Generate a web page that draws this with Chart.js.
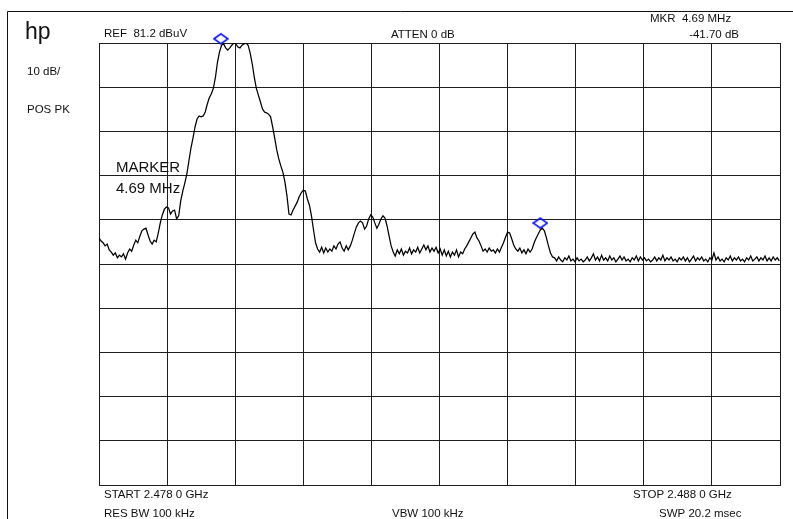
<!DOCTYPE html>
<html>
<head>
<meta charset="utf-8">
<script src="https://cdn.jsdelivr.net/npm/chart.js@4.4.0/dist/chart.umd.min.js"></script>
<style>
  html, body { margin: 0; padding: 0; background: #fff; }
  #wrap { width: 793px; height: 519px; }
</style>
</head>
<body>
<div id="wrap"><canvas id="specChart" width="793" height="519"></canvas></div>
<script>
// frequency offset from START (MHz), 1 MHz/div
const traceFreq = [
  0,0.03,0.06,0.09,0.12,0.15,0.18,0.21,0.24,0.27,
  0.3,0.33,0.36,0.39,0.42,0.45,0.48,0.51,0.54,0.57,
  0.6,0.63,0.66,0.69,0.72,0.75,0.78,0.81,0.84,0.87,
  0.9,0.93,0.96,0.99,1.02,1.05,1.08,1.11,1.14,1.17,
  1.2,1.23,1.26,1.29,1.32,1.35,1.38,1.41,1.44,1.47,
  1.5,1.53,1.56,1.59,1.62,1.65,1.68,1.71,1.74,1.77,
  1.8,1.83,1.86,1.89,1.92,1.95,1.98,2.01,2.04,2.07,
  2.1,2.13,2.16,2.19,2.22,2.25,2.28,2.31,2.34,2.37,
  2.4,2.43,2.46,2.49,2.52,2.55,2.58,2.61,2.64,2.67,
  2.7,2.73,2.76,2.79,2.82,2.85,2.88,2.91,2.94,2.97,
  3.0,3.03,3.06,3.09,3.12,3.15,3.18,3.21,3.24,3.27,
  3.3,3.33,3.36,3.39,3.42,3.45,3.48,3.51,3.54,3.57,
  3.6,3.63,3.66,3.69,3.72,3.75,3.78,3.81,3.84,3.87,
  3.9,3.93,3.96,3.99,4.02,4.05,4.08,4.11,4.14,4.17,
  4.2,4.23,4.26,4.29,4.32,4.35,4.38,4.41,4.44,4.47,
  4.5,4.53,4.56,4.59,4.62,4.65,4.68,4.71,4.74,4.77,
  4.8,4.83,4.86,4.89,4.92,4.95,4.98,5.01,5.04,5.07,
  5.1,5.13,5.16,5.19,5.22,5.25,5.28,5.31,5.34,5.37,
  5.4,5.43,5.46,5.49,5.52,5.55,5.58,5.61,5.64,5.67,
  5.7,5.73,5.76,5.79,5.82,5.85,5.88,5.91,5.94,5.97,
  6.0,6.03,6.06,6.09,6.12,6.15,6.18,6.21,6.24,6.27,
  6.3,6.33,6.36,6.39,6.42,6.45,6.48,6.51,6.54,6.57,
  6.6,6.63,6.66,6.69,6.72,6.75,6.78,6.81,6.84,6.87,
  6.9,6.93,6.96,6.99,7.02,7.05,7.08,7.11,7.14,7.17,
  7.2,7.23,7.26,7.29,7.32,7.35,7.38,7.41,7.44,7.47,
  7.5,7.53,7.56,7.59,7.62,7.65,7.68,7.71,7.74,7.77,
  7.8,7.83,7.86,7.89,7.92,7.95,7.98,8.01,8.04,8.07,
  8.1,8.13,8.16,8.19,8.22,8.25,8.28,8.31,8.34,8.37,
  8.4,8.43,8.46,8.49,8.52,8.55,8.58,8.61,8.64,8.67,
  8.7,8.73,8.76,8.79,8.82,8.85,8.88,8.91,8.94,8.97,
  9.0,9.03,9.06,9.09,9.12,9.15,9.18,9.21,9.24,9.27,
  9.3,9.33,9.36,9.39,9.42,9.45,9.48,9.51,9.54,9.57,
  9.6,9.63,9.66,9.69,9.72,9.75,9.78,9.81,9.84,9.87,
  9.9,9.93,9.96,9.99
];

// trace level (dBuV)
const traceLevel = [
  37.1,36.4,36.0,35.3,35.7,34.4,33.9,33.2,33.7,32.6,
  33.2,32.8,33.5,32.3,33.7,34.6,34.1,35.5,36.6,36.0,
  37.5,38.7,39.1,39.3,37.8,36.4,35.7,36.6,36.2,38.2,
  40.5,42.3,43.6,44.1,43.9,42.5,43.2,43.4,41.4,42.1,
  45.5,47.7,49.5,51.6,54.5,57.4,59.7,62.2,64.0,64.7,
  64.5,64.7,65.6,67.4,68.8,69.7,71.0,73.5,76.9,79.2,
  80.7,81.0,80.1,79.6,80.1,80.7,81.2,81.0,80.3,80.1,
  80.7,81.0,81.2,80.7,78.9,76.5,73.5,71.0,69.4,67.9,
  66.3,65.6,65.4,65.1,64.5,62.2,59.7,57.0,55.0,53.4,
  52.0,49.8,46.6,42.5,42.3,43.4,44.3,45.2,46.4,47.3,
  47.9,47.7,45.9,44.5,42.1,38.9,36.0,34.6,33.9,35.0,
  33.7,34.8,33.9,34.6,34.1,35.3,34.6,35.7,36.2,34.8,
  34.1,35.3,34.4,35.3,36.6,38.2,39.6,40.5,40.9,40.5,
  39.1,39.8,41.4,42.3,41.8,40.5,39.3,40.2,41.4,42.1,
  41.6,39.8,37.5,35.3,33.9,33.0,34.4,33.5,34.6,33.2,
  34.1,33.7,34.8,33.5,34.4,33.9,35.0,33.7,34.6,35.5,
  34.4,35.3,33.9,34.8,34.1,35.0,33.7,34.6,33.2,34.4,
  33.0,34.1,32.8,33.9,33.2,34.4,32.8,33.9,33.5,34.6,
  35.3,36.2,37.1,38.0,38.4,37.1,36.4,35.3,34.1,34.6,
  33.9,34.8,34.1,34.4,33.7,34.6,33.9,35.0,36.0,37.3,
  38.4,38.2,36.9,35.5,34.6,34.1,34.8,33.7,34.4,33.5,
  34.6,33.9,34.6,36.0,37.1,38.0,38.9,39.3,38.7,37.1,
  35.3,33.7,32.8,32.6,
  31.9,32.8,32.1,31.7,32.6,32.1,33.0,31.9,32.3,31.7,
  32.6,31.9,32.3,31.7,32.1,32.8,31.9,32.6,33.5,32.1,
  32.8,31.9,33.2,32.1,32.6,31.9,33.0,32.1,32.6,31.7,
  32.3,33.0,32.1,32.8,31.9,32.3,31.7,32.6,32.1,33.0,
  31.9,32.8,32.1,32.6,31.9,32.3,31.7,32.1,32.8,31.9,
  32.6,32.1,33.2,31.9,32.6,32.1,32.8,31.9,32.3,31.7,
  32.6,32.1,32.8,31.9,32.6,31.7,32.3,33.0,31.9,32.6,
  32.1,32.8,31.9,32.3,31.7,32.6,32.1,33.7,32.1,32.8,
  31.9,32.3,31.7,32.6,32.1,33.0,31.9,32.6,32.1,32.8,
  31.9,32.3,31.7,32.6,32.1,33.0,31.9,32.3,32.8,31.9,
  32.6,32.1,33.0,31.9,32.6,31.9,32.8,32.1,32.6,31.9
];

// reference marker and delta marker (4.69 MHz apart, -41.70 dB)
const markerFreq = [1.79, 6.48];
const markerLevel = [80.8, 39.1];

// graticule: 10 div x 10 div, REF 81.2 dBuV at top, 10 dB/div
const freqTicks = [0, 1, 2, 3, 4, 5, 6, 7, 8, 9, 10];
const levelTicks = [-18.8, -8.8, 1.2, 11.2, 21.2, 31.2, 41.2, 51.2, 61.2, 71.2, 81.2];

const FONT = "'Liberation Sans', Arial, sans-serif";
const gridColor = '#1e1e1e';
const textColor = '#111';

// diamond marker, drawn above its point
function makeDiamond() {
  const c = document.createElement('canvas');
  c.width = 16;
  c.height = 26;
  const g = c.getContext('2d');
  g.strokeStyle = '#0a14ff';
  g.lineWidth = 1.6;
  g.beginPath();
  g.moveTo(1, 7);
  g.lineTo(8, 2);
  g.lineTo(15, 7);
  g.lineTo(8, 12);
  g.closePath();
  g.stroke();
  return c;
}

const labels = [
  { t: 'hp', x: 25, y: 39, size: 23, base: 'alphabetic' },
  { t: '10 dB/', x: 27, y: 72 },
  { t: 'POS PK', x: 27, y: 110 },
  { t: 'REF  81.2 dBuV', x: 104, y: 34 },
  { t: 'ATTEN 0 dB', x: 391, y: 35 },
  { t: 'MKR  4.69 MHz', x: 650, y: 19 },
  { t: '-41.70 dB', x: 739, y: 35, align: 'right' },
  { t: 'MARKER', x: 116, y: 168, size: 15 },
  { t: '4.69 MHz', x: 116, y: 189, size: 15 },
  { t: 'START 2.478 0 GHz', x: 104, y: 495 },
  { t: 'RES BW 100 kHz', x: 104, y: 514 },
  { t: 'VBW 100 kHz', x: 392, y: 514 },
  { t: 'STOP 2.488 0 GHz', x: 633, y: 495 },
  { t: 'SWP 20.2 msec', x: 659, y: 514 }
];

const screenText = {
  id: 'screenText',
  afterDraw(chart) {
    const ctx = chart.ctx;
    ctx.save();
    // outer frame of the screen dump
    ctx.strokeStyle = '#111';
    ctx.lineWidth = 1;
    ctx.beginPath();
    ctx.moveTo(7.5, 519);
    ctx.lineTo(7.5, 11.5);
    ctx.lineTo(793, 11.5);
    ctx.stroke();

    ctx.fillStyle = textColor;
    labels.forEach(l => {
      ctx.font = (l.size || 11.5) + 'px ' + FONT;
      ctx.textAlign = l.align || 'left';
      ctx.textBaseline = l.base || 'middle';
      ctx.fillText(l.t, l.x, l.y);
    });
    ctx.restore();
  }
};

const ctx = document.getElementById('specChart').getContext('2d');
new Chart(ctx, {
  type: 'scatter',
  data: {
    datasets: [{
      label: 'trace',
      data: traceFreq.map((f, i) => ({ x: f, y: traceLevel[i] })),
      showLine: true,
      borderColor: '#000',
      borderWidth: 1.25,
      pointRadius: 0,
      tension: 0
    }, {
      label: 'markers',
      data: markerFreq.map((f, i) => ({ x: f, y: markerLevel[i] })),
      showLine: false,
      pointStyle: makeDiamond(),
      pointRadius: 8,
      clip: false
    }]
  },
  options: {
    responsive: false,
    animation: false,
    devicePixelRatio: 1,
    events: [],
    layout: {
      padding: { left: 99, right: 13, top: 43, bottom: 34 }
    },
    plugins: {
      legend: { display: false },
      tooltip: { enabled: false }
    },
    scales: {
      x: {
        type: 'linear',
        min: 0,
        max: 10,
        afterBuildTicks: axis => { axis.ticks = freqTicks.map(v => ({ value: v })); },
        grid: { color: gridColor, lineWidth: 1, drawTicks: false },
        border: { color: gridColor, width: 1 },
        ticks: { display: false }
      },
      y: {
        type: 'linear',
        min: -18.8,
        max: 81.2,
        afterBuildTicks: axis => { axis.ticks = levelTicks.map(v => ({ value: v })); },
        grid: { color: gridColor, lineWidth: 1, drawTicks: false },
        border: { color: gridColor, width: 1 },
        ticks: { display: false }
      }
    }
  },
  plugins: [screenText]
});
</script>
</body>
</html>
